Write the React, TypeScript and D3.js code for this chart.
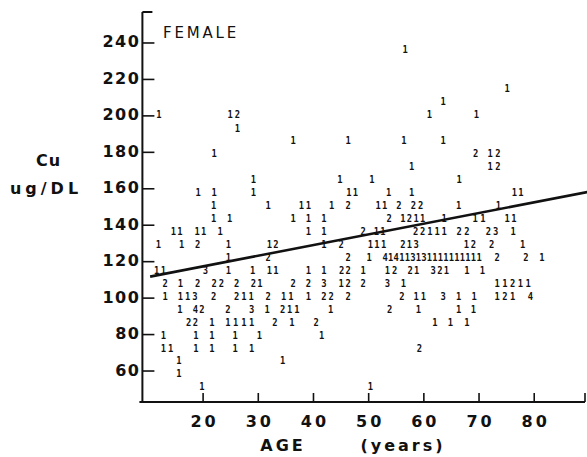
import React, { useRef, useEffect } from "react";
import * as d3 from "d3";

const yTicks = [60, 80, 100, 120, 140, 160, 180, 200, 220, 240];
const xTicks = [20, 30, 40, 50, 60, 70, 80];

// fitted line, two ends (age, Cu)
const fitAge = [10.4, 89.6];
const fitCu = [111.8, 158.2];

// [age, Cu ug/DL, count printed at that spot]
const marks: [number, number, number][] = [
  [56.6, 236.5, 1],
  [75.1, 215, 1],
  [63.5, 208, 1],
  [12.0, 201, 1], [24.9, 201, 1], [26.2, 201, 2], [61.0, 201, 1], [69.5, 201, 1],
  [26.2, 193.5, 1],
  [36.3, 186.5, 1], [46.3, 186.5, 1], [56.4, 186.5, 1], [63.5, 186.5, 1],
  [22.0, 179.4, 1], [69.4, 179.4, 2], [72.0, 179.4, 1], [73.4, 179.4, 2],
  [57.8, 172.3, 1], [72.0, 172.3, 1], [73.4, 172.3, 2],
  [29.1, 165.2, 1], [44.8, 165.2, 1], [50.6, 165.2, 1], [66.4, 165.2, 1],
  [19.1, 158.1, 1], [22.0, 158.1, 1], [29.1, 158.1, 1], [46.4, 158.1, 1], [47.6, 158.1, 1],
  [53.6, 158.1, 1], [57.8, 158.1, 1], [76.4, 158.1, 1], [77.6, 158.1, 1],
  [21.9, 151, 1], [31.8, 151, 1], [37.8, 151, 1], [39.1, 151, 1], [43.3, 151, 1], [46.3, 151, 2],
  [51.7, 151, 1], [52.9, 151, 1], [55.5, 151, 2], [58.1, 151, 2], [59.4, 151, 2], [66.3, 151, 1],
  [73.5, 151, 1],
  [21.9, 143.9, 1], [24.8, 143.9, 1], [36.3, 143.9, 1], [39.1, 143.9, 1], [41.9, 143.9, 1],
  [53.7, 143.9, 2], [56.2, 143.9, 1], [57.4, 143.9, 2], [58.6, 143.9, 1], [59.8, 143.9, 1],
  [63.7, 143.9, 1], [69.3, 143.9, 1], [70.7, 143.9, 1], [75.1, 143.9, 1], [76.3, 143.9, 1],
  [14.6, 136.8, 1], [15.8, 136.8, 1], [18.9, 136.8, 1], [20.1, 136.8, 1], [23.1, 136.8, 1],
  [39.1, 136.8, 1], [41.9, 136.8, 1], [49.0, 136.8, 2], [51.4, 136.8, 1], [52.6, 136.8, 1],
  [58.5, 136.8, 2], [59.8, 136.8, 2], [61.1, 136.8, 1], [62.4, 136.8, 1], [63.7, 136.8, 1],
  [66.4, 136.8, 2], [67.8, 136.8, 2], [71.7, 136.8, 2], [73.0, 136.8, 3], [76.2, 136.8, 1],
  [11.9, 129.7, 1], [16.1, 129.7, 1], [19.0, 129.7, 2], [24.6, 129.7, 1], [32.0, 129.7, 1],
  [33.2, 129.7, 2], [41.9, 129.7, 1], [45.0, 129.7, 2], [50.3, 129.7, 1], [51.5, 129.7, 1],
  [52.7, 129.7, 1], [56.2, 129.7, 2], [57.4, 129.7, 1], [58.6, 129.7, 3], [67.7, 129.7, 1],
  [69.0, 129.7, 2], [72.3, 129.7, 2], [77.9, 129.7, 1],
  [24.6, 122.5, 1], [31.8, 122.5, 2], [46.3, 122.5, 2], [50.1, 122.5, 1],
  [53, 122.5, 4], [54, 122.5, 1], [55, 122.5, 4], [56, 122.5, 1], [57, 122.5, 1], [58, 122.5, 3],
  [59, 122.5, 1], [60, 122.5, 3], [61, 122.5, 1], [62, 122.5, 1], [63, 122.5, 1], [64, 122.5, 1],
  [65, 122.5, 1], [66, 122.5, 1], [67, 122.5, 1], [68, 122.5, 1], [69, 122.5, 1], [70, 122.5, 1],
  [73.3, 122.5, 2], [78.5, 122.5, 2], [81.4, 122.5, 1],
  [11.6, 115.4, 1], [12.8, 115.4, 1], [20.4, 115.4, 3], [24.6, 115.4, 1], [29.0, 115.4, 1],
  [32.0, 115.4, 1], [33.2, 115.4, 1], [39.1, 115.4, 1], [41.9, 115.4, 1], [45.1, 115.4, 2],
  [46.3, 115.4, 2], [49.0, 115.4, 1], [53.4, 115.4, 1], [54.7, 115.4, 2], [57.5, 115.4, 2],
  [58.7, 115.4, 1], [61.7, 115.4, 3], [62.9, 115.4, 2], [64.1, 115.4, 1], [67.8, 115.4, 1],
  [70.6, 115.4, 1],
  [13.1, 108.3, 2], [15.9, 108.3, 1], [19.0, 108.3, 2], [22.0, 108.3, 2], [23.3, 108.3, 2],
  [26.1, 108.3, 2], [29.1, 108.3, 2], [30.3, 108.3, 1], [36.3, 108.3, 2], [39.1, 108.3, 2],
  [41.9, 108.3, 3], [45.0, 108.3, 1], [46.3, 108.3, 2], [49.0, 108.3, 2], [53.4, 108.3, 3],
  [56.3, 108.3, 1], [73.3, 108.3, 1], [74.7, 108.3, 1], [76.1, 108.3, 2], [77.5, 108.3, 1],
  [78.9, 108.3, 1],
  [13.1, 101.2, 1], [15.9, 101.2, 1], [17.2, 101.2, 1], [18.5, 101.2, 3], [21.9, 101.2, 2],
  [26.1, 101.2, 2], [27.4, 101.2, 1], [28.7, 101.2, 1], [31.8, 101.2, 2], [34.6, 101.2, 1],
  [35.9, 101.2, 1], [39.1, 101.2, 1], [41.9, 101.2, 2], [43.2, 101.2, 2], [46.3, 101.2, 2],
  [56.0, 101.2, 2], [58.6, 101.2, 1], [59.9, 101.2, 1], [63.5, 101.2, 3], [66.3, 101.2, 1],
  [69.1, 101.2, 1], [73.3, 101.2, 1], [74.7, 101.2, 2], [76.1, 101.2, 1], [79.3, 101.2, 4],
  [15.8, 94.1, 1], [18.6, 94.1, 4], [19.8, 94.1, 2], [24.5, 94.1, 2], [28.8, 94.1, 3],
  [31.6, 94.1, 1], [34.4, 94.1, 2], [35.7, 94.1, 1], [37.0, 94.1, 1], [43.1, 94.1, 1],
  [53.8, 94.1, 2], [59.0, 94.1, 1], [66.3, 94.1, 1], [69.0, 94.1, 1],
  [17.4, 87, 2], [18.6, 87, 2], [21.6, 87, 1], [24.5, 87, 1], [25.9, 87, 1], [27.4, 87, 1],
  [28.8, 87, 1], [33.0, 87, 2], [36.1, 87, 1], [40.5, 87, 2], [62.0, 87, 1], [64.8, 87, 1],
  [67.8, 87, 1],
  [12.8, 79.9, 1], [18.7, 79.9, 1], [21.6, 79.9, 1], [25.8, 79.9, 1], [30.2, 79.9, 1], [41.5, 79.9, 1],
  [12.8, 72.8, 1], [14.1, 72.8, 1], [18.7, 72.8, 1], [21.6, 72.8, 1], [25.8, 72.8, 1],
  [28.8, 72.8, 1], [59.2, 72.8, 2],
  [15.6, 65.7, 1], [34.4, 65.7, 1],
  [15.6, 58.6, 1],
  [19.8, 51.5, 1], [50.3, 51.5, 1],
];

const ink = "#111";

const App = () => {
  const svgRef = useRef(null);

  useEffect(() => {
    document.body.style.margin = "0";

    const svg = d3.select(svgRef.current);
    svg.selectAll("*").remove();

    const x = d3.scaleLinear().domain([9, 89.2]).range([142.4, 585]);
    const y = d3.scaleLinear().domain([43, 257]).range([402, 12]);
    const x0 = x.range()[0];
    const yBottom = y.range()[0];
    const yTop = y.range()[1];

    const bold = "'DejaVu Sans', sans-serif";

    // y axis
    svg.append("line")
      .attr("x1", x0).attr("x2", x0)
      .attr("y1", yTop).attr("y2", yBottom + 1)
      .attr("stroke", ink).attr("stroke-width", 2);
    svg.append("line")
      .attr("x1", x0).attr("x2", x0 + 10)
      .attr("y1", yTop).attr("y2", yTop)
      .attr("stroke", ink).attr("stroke-width", 2);

    const yt = svg.append("g");
    yt.selectAll("line")
      .data(yTicks)
      .enter()
      .append("line")
      .attr("x1", x0).attr("x2", x0 + 12)
      .attr("y1", d => y(d)).attr("y2", d => y(d))
      .attr("stroke", ink).attr("stroke-width", 1.6);
    yt.selectAll("text")
      .data(yTicks)
      .enter()
      .append("text")
      .attr("x", x0 - 2)
      .attr("y", d => y(d) - 1)
      .attr("text-anchor", "end")
      .attr("dominant-baseline", "central")
      .attr("font-family", bold)
      .attr("font-weight", "bold")
      .attr("font-size", 16)
      .attr("letter-spacing", 1.5)
      .attr("fill", ink)
      .text(d => d);

    // x axis
    svg.append("line")
      .attr("x1", x0 - 3).attr("x2", x.range()[1])
      .attr("y1", yBottom).attr("y2", yBottom)
      .attr("stroke", ink).attr("stroke-width", 2);
    svg.append("line")
      .attr("x1", x.range()[1]).attr("x2", x.range()[1])
      .attr("y1", yBottom).attr("y2", yBottom - 9)
      .attr("stroke", ink).attr("stroke-width", 1.6);

    const xt = svg.append("g");
    xt.selectAll("line")
      .data(xTicks)
      .enter()
      .append("line")
      .attr("x1", d => x(d)).attr("x2", d => x(d))
      .attr("y1", yBottom).attr("y2", yBottom - 9)
      .attr("stroke", ink).attr("stroke-width", 1.6);
    xt.selectAll("text")
      .data(xTicks)
      .enter()
      .append("text")
      .attr("x", d => x(d) + 1.5)
      .attr("y", 421)
      .attr("text-anchor", "middle")
      .attr("dominant-baseline", "central")
      .attr("font-family", bold)
      .attr("font-weight", "bold")
      .attr("font-size", 16)
      .attr("letter-spacing", 3)
      .attr("fill", ink)
      .text(d => d);

    // axis titles
    const title = (tx, ty, s, size, spacing, weight) =>
      svg.append("text")
        .attr("x", tx).attr("y", ty)
        .attr("text-anchor", "middle")
        .attr("dominant-baseline", "central")
        .attr("font-family", bold)
        .attr("font-weight", weight)
        .attr("font-size", size)
        .attr("letter-spacing", spacing)
        .attr("fill", ink)
        .text(s);

    title(283, 445, "AGE", 16, 3, "bold");
    title(403, 445, "(years)", 16, 3, "bold");
    title(48.5, 160, "Cu", 16, 1, "bold");
    title(46, 188, "ug/DL", 16, 4, "bold");

    svg.append("text")
      .attr("x", 163).attr("y", 38)
      .attr("font-family", bold)
      .attr("font-size", 15)
      .attr("letter-spacing", 2.8)
      .attr("fill", ink)
      .text("FEMALE");

    // printed counts, squeezed so one character is about one year wide
    svg.append("g")
      .selectAll("text")
      .data(marks)
      .enter()
      .append("text")
      .attr("transform", d => `translate(${x(d[0])},${y(d[1])}) scale(0.8,1)`)
      .attr("text-anchor", "middle")
      .attr("dominant-baseline", "central")
      .attr("font-family", "'DejaVu Sans Mono', monospace")
      .attr("font-weight", "bold")
      .attr("font-size", 11)
      .attr("fill", ink)
      .text(d => d[2]);

    // regression line
    const line = d3.line<number>()
      .x(i => x(fitAge[i]))
      .y(i => y(fitCu[i]));
    svg.append("path")
      .attr("d", line([0, 1]))
      .attr("fill", "none")
      .attr("stroke", ink)
      .attr("stroke-width", 2.6);
  }, []);

  return <svg ref={svgRef} width={587} height={457} style={{ display: "block", background: "#fff" }} />;
};

export default App;
